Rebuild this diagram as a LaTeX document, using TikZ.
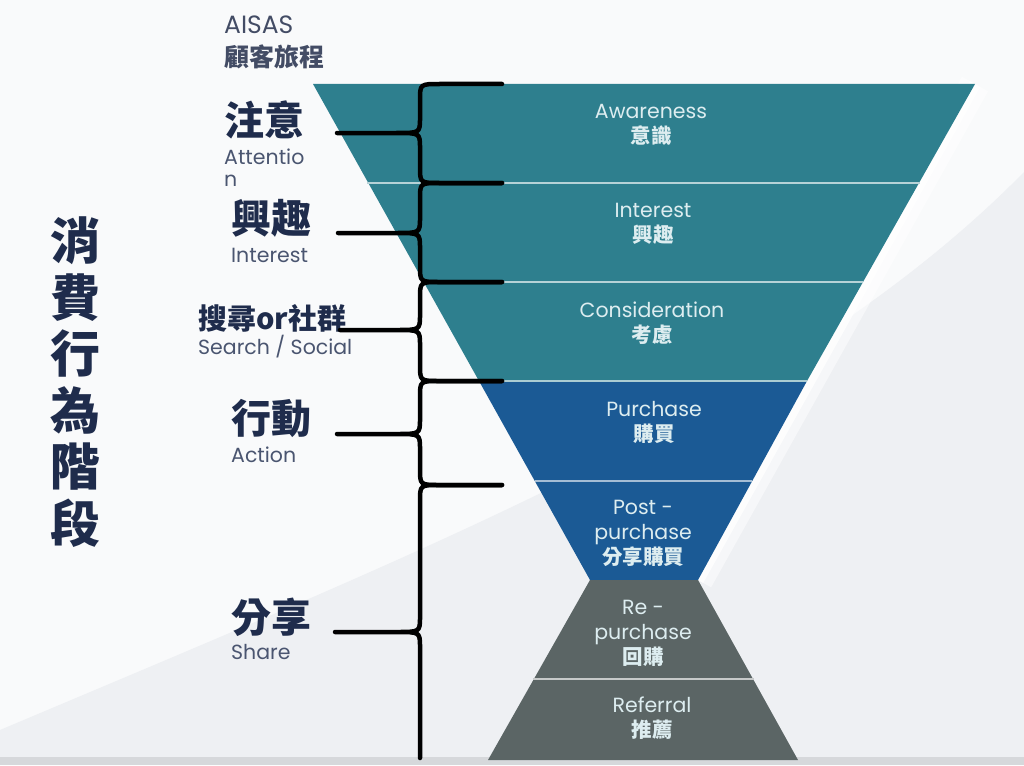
\documentclass[tikz,border=0pt]{standalone}
\usepackage{fontspec}
\setmainfont{Poppins}
\newfontfamily\cjk{Noto Sans CJK TC}
\usepackage{xcolor}
\usetikzlibrary{positioning}

\definecolor{bgtop}{HTML}{F9FAFB}
\definecolor{bglow}{HTML}{EEF0F3}
\definecolor{bgstrip}{HTML}{D6D8DB}
\definecolor{tealband}{HTML}{2E7F8E}
\definecolor{blueband}{HTML}{1B5A95}
\definecolor{grayband}{HTML}{5B6565}
\definecolor{navy}{HTML}{1F2C4C}
\definecolor{slate}{HTML}{4A5570}
\definecolor{bandfg}{HTML}{DDEDF0}

\begin{document}
\begin{tikzpicture}[
  x=1pt, y=-1pt,
  sep/.style={line width=2pt},
  bandtxt/.style={text=bandfg, align=center, inner sep=0pt, font=\fontsize{20.5}{25}\selectfont},
  stage/.style={text=navy, anchor=west, inner sep=0pt, font=\cjk\bfseries\fontsize{40}{40}\selectfont},
  stageen/.style={text=slate, anchor=west, inner sep=0pt, font=\fontsize{20.5}{22}\selectfont},
  brc/.style={draw=black, line width=4.5pt, line cap=round, line join=round}
]
\useasboundingbox (0,0) rectangle (1024,765);
% Fondo
\fill[bgtop] (0,0) rectangle (1024,765);
\fill[bglow] (0,730) .. controls (450,540) and (800,400) .. (1024,172) -- (1024,765) -- (0,765) -- cycle;
\draw[white, line width=30pt, opacity=0.5] (975,84) -- (698,580);
\draw[white, line width=12pt, opacity=0.8] (975,84) -- (698,580);
\fill[bgstrip] (0,757) rectangle (1024,765);

% Embudo
\fill[tealband] (313,84) -- (975,84) -- (807,381) -- (479,381) -- cycle;
\fill[blueband] (479,381) -- (807,381) -- (698,580) -- (590,580) -- cycle;
\fill[grayband] (590,580) -- (698,580) -- (798,760) -- (488,760) -- cycle;
\draw[sep, draw=tealband!35!white] (367,183) -- (920,183);
\draw[sep, draw=tealband!35!white] (423,282) -- (863,282);
\draw[sep, draw=tealband!40!white] (479,381) -- (807,381);
\draw[sep, draw=blueband!40!white] (535,481) -- (752,481);
\draw[sep, draw=grayband!35!white] (533,679) -- (754,679);

% Textos del embudo
\node[bandtxt] (aw)  at (651,125) {Awareness\\{\cjk\bfseries 意識}};
\node[bandtxt] (int) at (653,224) {Interest\\{\cjk\bfseries 興趣}};
\node[bandtxt] (con) at (652,323) {Consideration\\{\cjk\bfseries 考慮}};
\node[bandtxt] (pur) at (654,422) {Purchase\\{\cjk\bfseries 購買}};
\node[bandtxt] (post) at (643,533) {Post -\\purchase\\{\cjk\bfseries 分享購買}};
\node[bandtxt] (rep) at (643,633) {Re -\\purchase\\{\cjk\bfseries 回購}};
\node[bandtxt] (ref) at (652,718) {Referral\\{\cjk\bfseries 推薦}};

% Etiquetas AISAS
\node[anchor=west, inner sep=0pt, text=slate!90!black, font=\fontsize{25}{25}\selectfont] (aisas) at (224,25) {AISAS};
\node[anchor=west, inner sep=0pt, text=slate!90!black, font=\cjk\bfseries\fontsize{25}{25}\selectfont] (journey) at (224,57) {顧客旅程};
\node[stage] (attn) at (224,120) {注意};
\node[stageen] (attnen) at (224,157) {Attentio};
\node[stageen] (attnn) at (224,181) {n};
\node[stage] (intr) at (231,218) {興趣};
\node[stageen] (intren) at (231,255) {Interest};
\node[stage, font=\cjk\bfseries\fontsize{29}{29}\selectfont] (srch) at (198,318) {搜尋or社群};
\node[stageen] (srchen) at (198,347) {Search / Social};
\node[stage] (act) at (231,418) {行動};
\node[stageen] (acten) at (231,455) {Action};
\node[stage] (shr) at (231,617) {分享};
\node[stageen] (shren) at (231,652) {Share};

% Título vertical
\node[text=navy, align=center, inner sep=0pt, font=\cjk\bfseries\fontsize{50}{56.6}\selectfont] (title) at (75,382) {消\\費\\行\\為\\階\\段};

% Llaves
\draw[brc] (502,84) -- (440,84) .. controls (420,84) .. (420,100) -- (420,118) .. controls (420,133) .. (396,133) -- (337,133) -- (396,133) .. controls (420,133) .. (420,148) -- (420,167) .. controls (420,183) .. (440,183) -- (502,183);
\draw[brc] (502,183) -- (440,183) .. controls (420,183) .. (420,199) -- (420,218) .. controls (420,233) .. (396,233) -- (338,233) -- (396,233) .. controls (420,233) .. (420,248) -- (420,266) .. controls (420,282) .. (440,282) -- (502,282);
\draw[brc] (502,282) -- (440,282) .. controls (420,282) .. (420,298) -- (420,315) .. controls (420,330) .. (396,330) -- (340,330) -- (396,330) .. controls (420,330) .. (420,345) -- (420,365) .. controls (420,381) .. (440,381) -- (502,381);
\draw[brc] (502,381) -- (440,381) .. controls (420,381) .. (420,397) -- (420,419) .. controls (420,434) .. (396,434) -- (337,434) -- (396,434) .. controls (420,434) .. (420,449) -- (420,469) .. controls (420,485) .. (440,485) -- (502,485);
\draw[brc] (502,485) -- (440,485) .. controls (420,485) .. (420,501) -- (420,617) .. controls (420,632) .. (396,632) -- (335,632) -- (396,632) .. controls (420,632) .. (420,647) -- (420,758);
\end{tikzpicture}
\end{document}
